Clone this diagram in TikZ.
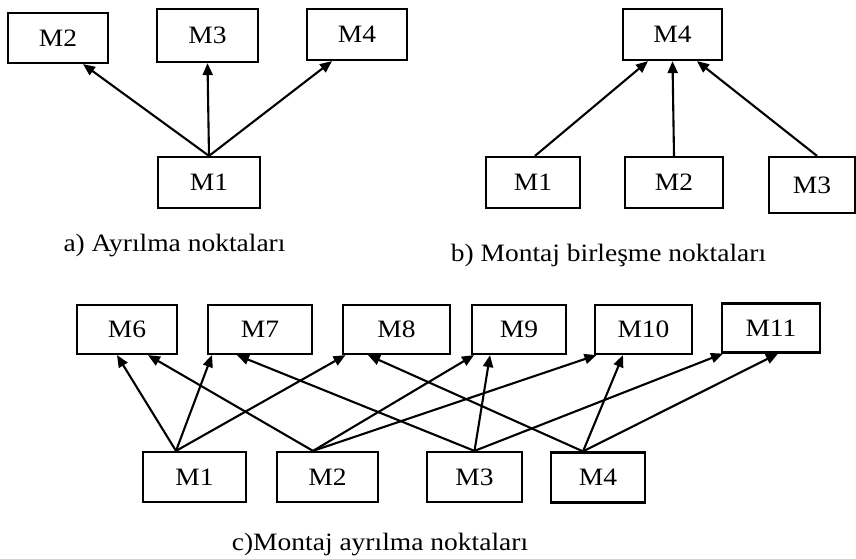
\documentclass[tikz,border=0pt]{standalone}
\usepackage{fontspec}
\setmainfont{Liberation Serif}[FakeStretch=1.1]
\usetikzlibrary{arrows.meta}
\begin{document}
\begin{tikzpicture}[x=1pt,y=-1pt,
  txt/.style={font=\fontsize{25}{30}\selectfont},
  box/.style={draw, line width=2.2pt, inner sep=0pt, txt},
  arr/.style={line width=2.1pt, -{Triangle[length=12pt,width=10pt]}},
  caption/.style={anchor=base, txt}]
\useasboundingbox (0,0) rectangle (856,559);

% (a) one module branching to three
\node[box, minimum width=100pt, minimum height=50pt] (a2) at (58,38) {M2};
\node[box, minimum width=101pt, minimum height=53pt] (a3) at (207.5,35.5) {M3};
\node[box, minimum width=100pt, minimum height=51pt] (a4) at (357,34.5) {M4};
\node[box, minimum width=102pt, minimum height=51pt] (a1) at (209,182.5) {M1};
\draw[arr] (a1.north) -- ([xshift=25pt]a2.south);
\draw[arr] (a1.north) -- (a3.south);
\draw[arr] (a1.north) -- ([xshift=-25pt]a4.south);
\node[caption] (capa) at (174.5,251) {a) Ayrılma noktaları};

% (b) three modules joining into one
\node[box, minimum width=99pt, minimum height=51pt] (b4) at (672.5,34.5) {M4};
\node[box, minimum width=94pt, minimum height=51pt] (b1) at (533,182.5) {M1};
\node[box, minimum width=98pt, minimum height=51pt] (b2) at (674,182.5) {M2};
\node[box, minimum width=86pt, minimum height=56pt] (b3) at (812,185) {M3};
\draw[arr] ([xshift=2pt]b1.north) -- ([xshift=-24.5pt]b4.south);
\draw[arr] (b2.north) -- (b4.south);
\draw[arr] ([xshift=5pt]b3.north) -- ([xshift=24.5pt]b4.south);
\node[caption] (capb) at (608.5,261) {b) Montaj birleşme noktaları};

% (c) four modules, each branching to three
\node[box, minimum width=100pt, minimum height=49pt] (c6) at (127,329.5) {M6};
\node[box, minimum width=104pt, minimum height=49pt] (c7) at (260,329.5) {M7};
\node[box, minimum width=107pt, minimum height=49pt] (c8) at (396.5,329.5) {M8};
\node[box, minimum width=94pt, minimum height=49pt] (c9) at (519,329.5) {M9};
\node[box, minimum width=97pt, minimum height=49pt] (c10) at (643.5,329.5) {M10};
\node[box, minimum width=98pt, minimum height=49pt] (c11) at (771,328) {M11};
\node[box, minimum width=103pt, minimum height=50pt] (c1) at (194.5,477) {M1};
\node[box, minimum width=101pt, minimum height=50pt] (c2) at (327.5,477) {M2};
\node[box, minimum width=95pt, minimum height=50pt] (c3) at (474.5,477) {M3};
\node[box, minimum width=94pt, minimum height=50pt] (c4) at (598,477.5) {M4};

\coordinate (s1) at ([xshift=-18.5pt]c1.north);
\coordinate (s2) at ([xshift=-14.5pt]c2.north);
\coordinate (s3) at (c3.north);
\coordinate (s4) at ([xshift=-15pt]c4.north);

\draw[arr] (s1) -- ([xshift=-10pt]c6.south);
\draw[arr] (s1) -- ([xshift=-48pt]c7.south);
\draw[arr] (s1) -- ([xshift=-51pt]c8.south);
\draw[arr] (s2) -- ([xshift=21pt]c6.south);
\draw[arr] (s2) -- ([xshift=-45pt]c9.south);
\draw[arr] (s2) -- ([xshift=-47pt]c10.south);
\draw[arr] (s3) -- ([xshift=-23pt]c7.south);
\draw[arr] (s3) -- ([xshift=-29pt]c9.south);
\draw[arr] (s3) -- ([xshift=-48pt]c11.south);
\draw[arr] (s4) -- ([xshift=-28.5pt]c8.south);
\draw[arr] (s4) -- ([xshift=-20.5pt]c10.south);
\draw[arr] (s4) -- ([xshift=7pt]c11.south);
\node[caption] (capc) at (380,550) {c)Montaj ayrılma noktaları};
\end{tikzpicture}
\end{document}
